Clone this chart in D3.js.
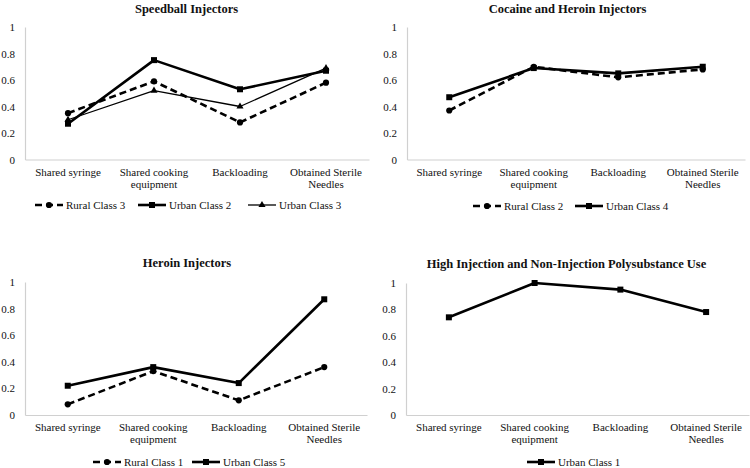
<!DOCTYPE html>
<html><head><meta charset="utf-8">
<script src="https://cdn.jsdelivr.net/npm/d3@7"></script>
<style>body{margin:0;background:#fff}svg{display:block}text{font-family:"Liberation Serif","Times New Roman",serif;fill:#111}</style>
</head><body><svg id="c" width="750" height="468"></svg>
<script>
const categories = ["Shared syringe", "Shared cooking equipment", "Backloading", "Obtained Sterile Needles"];
const categoryLines = [["Shared syringe"], ["Shared cooking", "equipment"], ["Backloading"], ["Obtained Sterile", "Needles"]];
const yTicks = [0, 0.2, 0.4, 0.6, 0.8, 1];
const yTickLabels = ["0", "0.2", "0.4", "0.6", "0.8", "1"];
const panelTitles = ["Speedball Injectors", "Cocaine and Heroin Injectors", "Heroin Injectors", "High Injection and Non-Injection Polysubstance Use"];

// Speedball Injectors
const rural3 = [0.35, 0.59, 0.28, 0.58];
const urban2 = [0.27, 0.75, 0.53, 0.67];
const urban3 = [0.30, 0.52, 0.40, 0.69];
// Cocaine and Heroin Injectors
const rural2 = [0.37, 0.70, 0.62, 0.68];
const urban4 = [0.47, 0.69, 0.65, 0.70];
// Heroin Injectors
const rural1 = [0.08, 0.33, 0.11, 0.36];
const urban5 = [0.22, 0.36, 0.24, 0.87];
// High Injection and Non-Injection Polysubstance Use
const urban1 = [0.74, 1.00, 0.95, 0.78];

const STY = {
  dashed: {w: 2.6, dash: "7,4", marker: "circle"},
  thick: {w: 2.6, dash: null, marker: "square"},
  thin: {w: 1.3, dash: null, marker: "triangle"}
};

const panels = [
  {title: panelTitles[0], titleX: 186.5, x0: 25, x1: 369, yTop: 27, yBot: 159.5, titleY: 13, legendY: 205,
   series: [{name: "Rural Class 3", v: rural3, s: "dashed"}, {name: "Urban Class 2", v: urban2, s: "thick"}, {name: "Urban Class 3", v: urban3, s: "thin"}],
   legendX: [35, 138, 248]},
  {title: panelTitles[1], titleX: 567.5, x0: 407, x1: 745, yTop: 27, yBot: 159.5, titleY: 13, legendY: 206,
   series: [{name: "Rural Class 2", v: rural2, s: "dashed"}, {name: "Urban Class 4", v: urban4, s: "thick"}],
   legendX: [473, 575]},
  {title: panelTitles[2], titleX: 187, x0: 25, x1: 367, yTop: 282, yBot: 415, titleY: 267, legendY: 462,
   series: [{name: "Rural Class 1", v: rural1, s: "dashed"}, {name: "Urban Class 5", v: urban5, s: "thick"}],
   legendX: [93, 192]},
  {title: panelTitles[3], titleX: 566.5, x0: 406, x1: 749, yTop: 283, yBot: 415, titleY: 268, legendY: 462,
   series: [{name: "Urban Class 1", v: urban1, s: "thick"}],
   legendX: [527]}
];

const svg = d3.select("#c");

function marker(g, type, x, y) {
  if (type === "circle") g.append("circle").attr("cx", x).attr("cy", y).attr("r", 3.1).attr("fill", "#000");
  else if (type === "square") g.append("rect").attr("x", x - 3).attr("y", y - 3).attr("width", 6).attr("height", 6).attr("fill", "#000");
  else g.append("path").attr("d", d3.symbol(d3.symbolTriangle, 22)()).attr("transform", `translate(${x},${y})`).attr("fill", "#000");
}

panels.forEach(p => {
  const g = svg.append("g");
  const x = d3.scaleBand().domain(categories).range([p.x0, p.x1]);
  const y = d3.scaleLinear().domain([0, 1]).range([p.yBot, p.yTop]);
  const cx = c => x(c) + x.bandwidth() / 2;

  g.append("text").attr("x", p.titleX).attr("y", p.titleY).attr("text-anchor", "middle")
    .attr("font-size", 12.5).attr("font-weight", "bold").text(p.title);

  const ya = g.append("g").attr("transform", `translate(${p.x0},0)`)
    .call(d3.axisLeft(y).tickValues(yTicks).tickFormat((d, i) => yTickLabels[i]).tickSize(0).tickPadding(10));
  ya.select(".domain").attr("stroke", "#d0d0d0").attr("stroke-width", 1.2);
  ya.selectAll("text").attr("font-size", 11).attr("fill", "#111");

  const xa = g.append("g").attr("transform", `translate(0,${p.yBot})`)
    .call(d3.axisBottom(x).tickSize(0).tickFormat(""));
  xa.select(".domain").attr("stroke", "#d0d0d0").attr("stroke-width", 1.2);
  categories.forEach((c, i) => {
    const t = g.append("text").attr("x", cx(c)).attr("y", p.yBot + 16).attr("text-anchor", "middle").attr("font-size", 11);
    categoryLines[i].forEach((ln, j) => t.append("tspan").attr("x", cx(c)).attr("dy", j === 0 ? 0 : 12).text(ln));
  });

  const line = d3.line().x((d, i) => cx(categories[i])).y(d => y(d));
  p.series.forEach(s => {
    const st = STY[s.s];
    g.append("path").attr("d", line(s.v)).attr("fill", "none").attr("stroke", "#000")
      .attr("stroke-width", st.w).attr("stroke-dasharray", st.dash).attr("stroke-linejoin", "round");
    s.v.forEach((v, i) => marker(g, st.marker, cx(categories[i]), y(v)));
  });

  p.series.forEach((s, k) => {
    const st = STY[s.s];
    const lx = p.legendX[k], ly = p.legendY;
    g.append("line").attr("x1", lx).attr("x2", lx + 28).attr("y1", ly).attr("y2", ly).attr("stroke", "#000")
      .attr("stroke-width", st.w).attr("stroke-dasharray", st.dash);
    marker(g, st.marker, lx + 14, ly);
    g.append("text").attr("x", lx + 31).attr("y", ly + 4).attr("font-size", 11).text(s.name);
  });
});
</script></body></html>
